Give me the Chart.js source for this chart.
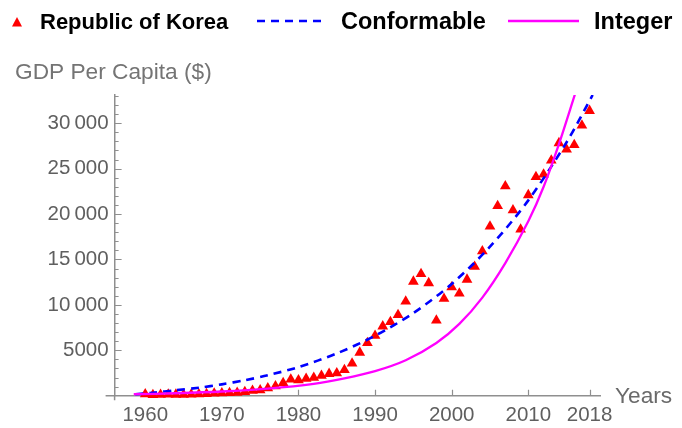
<!DOCTYPE html>
<html><head><meta charset="utf-8">
<script src="https://cdn.jsdelivr.net/npm/chart.js@4.4.0/dist/chart.umd.min.js"></script>
<style>html,body{margin:0;padding:0;background:#fff;overflow:hidden;}</style>
</head><body>
<canvas id="c" width="682" height="428" style="display:block;width:682px;height:428px"></canvas>
<script>
// ---- data ----
const years = [1960,1961,1962,1963,1964,1965,1966,1967,1968,1969,1970,1971,1972,1973,1974,1975,1976,1977,1978,1979,
  1980,1981,1982,1983,1984,1985,1986,1987,1988,1989,1990,1991,1992,1993,1994,1995,1996,1997,1998,1999,
  2000,2001,2002,2003,2004,2005,2006,2007,2008,2009,2010,2011,2012,2013,2014,2015,2016,2017,2018];
const korea = [158,94,106,146,124,109,133,161,198,243,279,301,324,406,563,616,834,1055,1406,1784,
  1715,1883,1993,2199,2413,2482,2835,3555,4749,5817,6610,7637,8127,8885,10385,12565,13403,12398,8282,10672,
  11948,11253,12783,14209,15908,18640,20888,23061,20431,18292,22087,24080,24359,25890,27811,27105,27608,29743,31363];

const confYears  = [1958.7,1961,1964,1967,1970,1973,1976,1980,1985,1990,1995,2000,2005,2010,2015,2018.4];
const confValues = [150,330,600,880,1250,1700,2250,3150,4650,6600,9100,12300,16400,21500,27900,33100];

const intYears  = [1958.5,1964,1970,1976,1982,1986,1990,1994,1998,2001,2004,2007,2010,2012,2014,2016.1];
const intValues = [160,270,460,780,1300,1900,2700,3900,5800,7900,10800,14600,19200,23000,27700,33200];

const xTickValues = [1960,1970,1980,1990,2000,2010,2018];
const yMajorStep = 5000;
const yMinorStep = 1000;
const yTop = 33000;

const seriesNames = ['Republic of Korea','Conformable','Integer'];
const xTitle = 'Years';
const yTitle = 'GDP Per Capita ($)';

// ---- styles ----
const FONT = "'Liberation Sans', Arial, sans-serif";
const AXIS_COLOR = '#8f8f8f';
const LABEL_COLOR = '#5f5f5f';
const RED = '#ff0000', BLUE = '#0000ff', MAGENTA = '#ff00ff';

function fmt(v){
  if (v >= 10000) { const s = String(v); return s.slice(0, s.length-3) + '\u2009' + s.slice(-3); }
  return String(v);
}

const decor = {
  id: 'decor',
  beforeDatasetsDraw(chart){
    const ctx = chart.ctx, xs = chart.scales.x, ys = chart.scales.y;
    const x0 = xs.getPixelForValue(1956), y0 = ys.getPixelForValue(0);
    ctx.save();
    ctx.strokeStyle = AXIS_COLOR; ctx.lineWidth = 1.5;
    ctx.beginPath();
    ctx.moveTo(x0 - 9, y0); ctx.lineTo(x0, y0);
    ctx.moveTo(x0, y0); ctx.lineTo(x0, y0 + 4.5);
    ctx.stroke();
    ctx.lineWidth = 1.2;
    ctx.beginPath();
    for (let v = yMinorStep; v <= yTop; v += yMinorStep){
      const py = Math.round(ys.getPixelForValue(v)) + 0.5;
      const len = (v % yMajorStep === 0) ? 7 : 4;
      ctx.moveTo(x0, py); ctx.lineTo(x0 + len, py);
    }
    xTickValues.forEach(v => {
      const px = Math.round(xs.getPixelForValue(v)) + 0.5;
      ctx.moveTo(px, y0); ctx.lineTo(px, y0 - 6);
    });
    ctx.stroke();
    ctx.restore();
  },
  afterDraw(chart){
    const ctx = chart.ctx;
    const ds = chart.data.datasets;
    ctx.save();
    ctx.textBaseline = 'alphabetic';
    ctx.fillStyle = ds[0].backgroundColor;
    ctx.beginPath();
    ctx.moveTo(17, 17); ctx.lineTo(22, 26.5); ctx.lineTo(12, 26.5); ctx.closePath(); ctx.fill();
    ctx.fillStyle = '#000';
    ctx.font = "bold 22px " + FONT;
    ctx.fillText(seriesNames[0], 40, 29);
    ctx.strokeStyle = ds[1].borderColor; ctx.lineWidth = 2.6; ctx.setLineDash([8,6]);
    ctx.beginPath(); ctx.moveTo(257, 21); ctx.lineTo(326, 21); ctx.stroke();
    ctx.setLineDash([]);
    ctx.font = "bold 23.5px " + FONT;
    ctx.fillText(seriesNames[1], 341, 29);
    ctx.strokeStyle = ds[2].borderColor; ctx.lineWidth = 2.4;
    ctx.beginPath(); ctx.moveTo(508, 21); ctx.lineTo(579, 21); ctx.stroke();
    ctx.fillText(seriesNames[2], 594, 29);
    ctx.font = "22.7px " + FONT;
    ctx.fillStyle = '#747474';
    ctx.fillText(yTitle, 15, 79);
    ctx.fillStyle = '#6a6a6a';
    ctx.fillText(xTitle, 615, 403);
    ctx.restore();
  }
};

new Chart(document.getElementById('c'), {
  type: 'scatter',
  data: {
    datasets: [
      { label: seriesNames[0], data: years.map((y,i)=>({x:y, y:korea[i]})),
        pointStyle: 'triangle', pointRadius: 6.2, pointHoverRadius: 6.2,
        backgroundColor: RED, borderColor: RED, borderWidth: 0, clip: false, order: 3 },
      { label: seriesNames[1], data: confYears.map((y,i)=>({x:y, y:confValues[i]})),
        showLine: true, pointRadius: 0, borderColor: BLUE, backgroundColor: BLUE,
        borderWidth: 2.6, borderDash: [8,6], tension: 0.3, order: 2 },
      { label: seriesNames[2], data: intYears.map((y,i)=>({x:y, y:intValues[i]})),
        showLine: true, pointRadius: 0, borderColor: MAGENTA, backgroundColor: MAGENTA,
        borderWidth: 2.3, tension: 0.3, order: 1 }
    ]
  },
  options: {
    responsive: false, animation: false, devicePixelRatio: 1,
    layout: { padding: { top: 95, right: 81.7, bottom: 0, left: 0 } },
    plugins: { legend: { display: false }, tooltip: { enabled: false } },
    scales: {
      x: {
        type: 'linear', min: 1956, max: 2019.4,
        afterFit(s){ s.height = 32.3; },
        afterBuildTicks(s){ s.ticks = xTickValues.map(v=>({value:v})); },
        ticks: { font: { size: 20.5, family: FONT }, color: LABEL_COLOR, padding: 7,
          maxRotation: 0, autoSkip: false, callback: v => String(v) },
        grid: { display: false, drawTicks: false, tickLength: 0 },
        border: { display: true, color: AXIS_COLOR, width: 1.5 }
      },
      y: {
        type: 'linear', min: 0, max: 33100,
        afterFit(s){ s.width = 114.6; },
        afterBuildTicks(s){ const t=[]; for(let v=0; v<=yTop; v+=yMinorStep) t.push({value:v}); s.ticks = t; },
        ticks: { font: { size: 20.5, family: FONT }, color: LABEL_COLOR, padding: 6, autoSkip: false,
          callback: v => (v > 0 && v % yMajorStep === 0) ? fmt(v) : '' },
        grid: { display: false, drawTicks: false, tickLength: 0 },
        border: { display: true, color: AXIS_COLOR, width: 1.5 }
      }
    }
  },
  plugins: [decor]
});
</script>
</body></html>
